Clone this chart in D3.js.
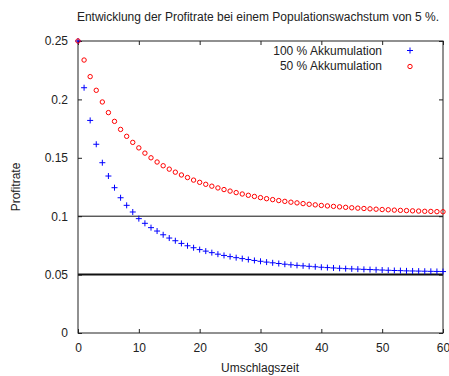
<!DOCTYPE html>
<html>
<head>
<meta charset="utf-8">
<script src="https://cdn.jsdelivr.net/npm/d3@7"></script>
<style>
  body { margin: 0; background: #fff; }
  svg { display: block; font-family: "Liberation Sans", Arial, sans-serif; }
  .tick text { fill: #222; font-size: 12px; }
  .tick line { stroke: #222; }
</style>
</head>
<body>
<svg id="chart" width="449" height="376"></svg>
<script>
// Umschlagszeit 0..60
var periods = d3.range(0, 61);

// Profitrate bei 100 % Akkumulation
var accum100 = [
  0.2500, 0.2100, 0.1820, 0.1616, 0.1458, 0.1344, 0.1244, 0.1158, 0.1093, 0.1036,
  0.0979, 0.0939, 0.0902, 0.0873, 0.0841, 0.0813, 0.0790, 0.0767, 0.0747, 0.0730,
  0.0714, 0.0701, 0.0688, 0.0675, 0.0664, 0.0654, 0.0645, 0.0637, 0.0629, 0.0621,
  0.0614, 0.0607, 0.0601, 0.0595, 0.0589, 0.0584, 0.0579, 0.0575, 0.0571, 0.0567,
  0.0563, 0.0560, 0.0557, 0.0554, 0.0551, 0.0549, 0.0547, 0.0545, 0.0543, 0.0541,
  0.0539, 0.0537, 0.0535, 0.0534, 0.0532, 0.0531, 0.0530, 0.0529, 0.0528, 0.0527,
  0.0526
];

// Profitrate bei 50 % Akkumulation
var accum50 = [
  0.2500, 0.2337, 0.2195, 0.2078, 0.1978, 0.1887, 0.1812, 0.1743, 0.1684, 0.1632,
  0.1585, 0.1540, 0.1500, 0.1464, 0.1432, 0.1403, 0.1377, 0.1353, 0.1331, 0.1309,
  0.1290, 0.1273, 0.1257, 0.1242, 0.1228, 0.1215, 0.1202, 0.1190, 0.1179, 0.1169,
  0.1159, 0.1150, 0.1142, 0.1134, 0.1127, 0.1120, 0.1114, 0.1108, 0.1102, 0.1097,
  0.1092, 0.1088, 0.1084, 0.1080, 0.1076, 0.1072, 0.1069, 0.1066, 0.1063, 0.1060,
  0.1057, 0.1055, 0.1052, 0.1050, 0.1048, 0.1046, 0.1044, 0.1042, 0.1041, 0.1039,
  0.1038
];

// horizontal reference lines (Grenzwerte)
var limits = [0.1, 0.05];

var xTicks = [0, 10, 20, 30, 40, 50, 60];
var yTicks = [0, 0.05, 0.1, 0.15, 0.2, 0.25];

var titleText = 'Entwicklung der Profitrate bei einem Populationswachstum von 5 %.';
var legendLabels = ['100 % Akkumulation', '50 % Akkumulation'];

var svg = d3.select('#chart');
var plotLeft = 78, plotRight = 443, plotTop = 41, plotBottom = 333;

var x = d3.scaleLinear().domain([0, 60]).range([plotLeft, plotRight]);
var y = d3.scaleLinear().domain([0, 0.25]).range([plotBottom, plotTop]);

var fmt = function(d) { return d3.format('')(d); };

// axes with inward ticks
svg.append('g')
    .attr('transform', 'translate(0,' + plotBottom + ')')
    .call(d3.axisBottom(x).tickValues(xTicks).tickSizeInner(-4).tickSizeOuter(0)
        .tickPadding(10).tickFormat(fmt))
    .call(function(g) { g.select('.domain').remove(); });
svg.append('g')
    .attr('transform', 'translate(0,' + plotTop + ')')
    .call(d3.axisTop(x).tickValues(xTicks).tickSizeInner(-4).tickSizeOuter(0)
        .tickFormat(''))
    .call(function(g) { g.select('.domain').remove(); });
svg.append('g')
    .attr('transform', 'translate(' + plotLeft + ',0)')
    .call(d3.axisLeft(y).tickValues(yTicks).tickSizeInner(-4).tickSizeOuter(0)
        .tickPadding(10).tickFormat(fmt))
    .call(function(g) { g.select('.domain').remove(); });
svg.append('g')
    .attr('transform', 'translate(' + plotRight + ',0)')
    .call(d3.axisRight(y).tickValues(yTicks).tickSizeInner(-4).tickSizeOuter(0)
        .tickFormat(''))
    .call(function(g) { g.select('.domain').remove(); });

// reference lines
svg.selectAll('.limit')
    .data(limits)
    .enter().append('line')
    .attr('class', 'limit')
    .attr('x1', plotLeft).attr('x2', plotRight)
    .attr('y1', function(d) { return y(d); })
    .attr('y2', function(d) { return y(d); })
    .attr('stroke', '#111')
    .attr('stroke-width', function(d, i) { return i == 1 ? 2 : 1; });

// border
svg.append('rect')
    .attr('x', plotLeft).attr('y', plotTop)
    .attr('width', plotRight - plotLeft).attr('height', plotBottom - plotTop)
    .attr('fill', 'none').attr('stroke', '#222').attr('stroke-width', 1);

function plusPath(cx, cy) {
  return 'M' + (cx - 3) + ',' + cy + 'H' + (cx + 3) +
         'M' + cx + ',' + (cy - 3) + 'V' + (cy + 3);
}

// 100 % series: blue plus signs
svg.append('g').selectAll('path')
    .data(periods)
    .enter().append('path')
    .attr('d', function(t) { return plusPath(x(t), y(accum100[t])); })
    .attr('stroke', '#0000ff').attr('stroke-width', 1).attr('fill', 'none');

// 50 % series: red circles
svg.append('g').selectAll('circle')
    .data(periods)
    .enter().append('circle')
    .attr('cx', function(t) { return x(t); })
    .attr('cy', function(t) { return y(accum50[t]); })
    .attr('r', 2.2)
    .attr('stroke', '#ff0000').attr('stroke-width', 1).attr('fill', 'none');

// title and axis labels
svg.append('text')
    .attr('x', 258).attr('y', 21)
    .attr('text-anchor', 'middle')
    .attr('font-size', 12).attr('fill', '#222')
    .text(titleText);

svg.append('text')
    .attr('x', 260).attr('y', 372)
    .attr('text-anchor', 'middle')
    .attr('font-size', 12).attr('fill', '#222')
    .text('Umschlagszeit');

svg.append('text')
    .attr('transform', 'translate(20,187) rotate(-90)')
    .attr('text-anchor', 'middle')
    .attr('font-size', 12).attr('fill', '#222')
    .text('Profitrate');

// legend
var legend = svg.append('g');
legend.selectAll('text')
    .data(legendLabels)
    .enter().append('text')
    .attr('x', 382)
    .attr('y', function(d, i) { return 54.5 + i * 15.5; })
    .attr('text-anchor', 'end')
    .attr('font-size', 12).attr('fill', '#222')
    .text(function(d) { return d; });
legend.append('path')
    .attr('d', plusPath(410, 50.5))
    .attr('stroke', '#0000ff').attr('fill', 'none');
legend.append('circle')
    .attr('cx', 410).attr('cy', 66.5).attr('r', 2.2)
    .attr('stroke', '#ff0000').attr('fill', 'none');
</script>
</body>
</html>
